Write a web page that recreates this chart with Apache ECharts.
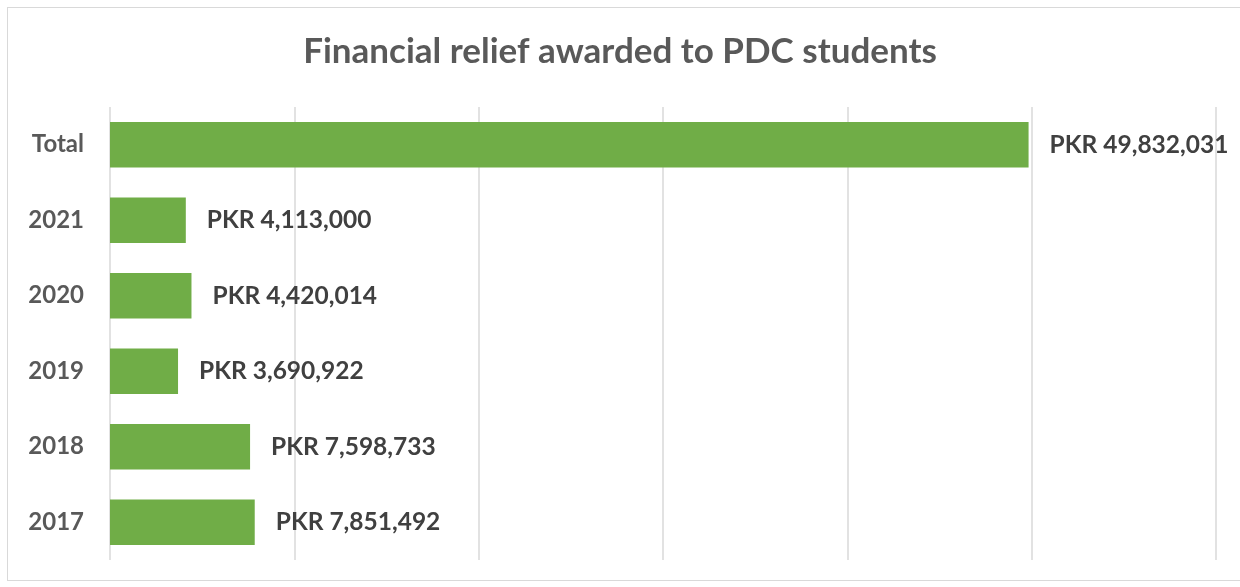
<!DOCTYPE html>
<html>
<head>
<meta charset="utf-8">
<script src="https://cdn.jsdelivr.net/npm/echarts@6/dist/echarts.min.js"></script>
<style>
html,body{margin:0;padding:0;background:#fff;}
#frame{position:absolute;left:7px;top:7px;width:1240px;height:574px;border:1px solid #d9d9d9;box-sizing:border-box;}
#chart{position:absolute;left:0;top:0;width:1240px;height:587px;}
</style>
</head>
<body>
<div id="frame"></div>
<div id="chart"></div>
<script>
const titleText = 'Financial relief awarded to PDC students';
const categories = ['Total', '2021', '2020', '2019', '2018', '2017'];
const values = [49832031, 4113000, 4420014, 3690922, 7598733, 7851492];
const currencyPrefix = 'PKR ';

const font = 'Lato, "Open Sans", "Noto Sans", sans-serif';
const chart = echarts.init(document.getElementById('chart'), null, {renderer: 'canvas'});
chart.setOption({
  backgroundColor: 'transparent',
  animation: false,
  title: {
    text: titleText,
    left: 'center',
    top: 29,
    textStyle: {fontFamily: font, fontSize: 35, fontWeight: 'bold', color: '#595959'}
  },
  grid: {left: 110, right: 24, top: 107, bottom: 27, containLabel: false},
  xAxis: {
    type: 'value',
    min: 0,
    max: 60000000,
    interval: 10000000,
    axisLabel: {show: false},
    axisLine: {show: false},
    axisTick: {show: false},
    splitLine: {show: true, lineStyle: {color: '#d9d9d9', width: 1.5}}
  },
  yAxis: {
    type: 'category',
    inverse: true,
    data: categories,
    axisLine: {show: false},
    axisTick: {show: false},
    axisLabel: {margin: 26, fontFamily: font, fontSize: 24, fontWeight: 'bold', color: '#595959'}
  },
  series: [{
    type: 'bar',
    data: values,
    barWidth: '60%',
    itemStyle: {color: '#70ad47'},
    label: {
      show: true,
      position: 'right',
      distance: 21,
      fontFamily: font,
      fontSize: 24.5,
      fontWeight: 'bold',
      color: '#404040',
      formatter: p => currencyPrefix + p.value.toLocaleString('en-US')
    }
  }]
});
</script>
</body>
</html>
